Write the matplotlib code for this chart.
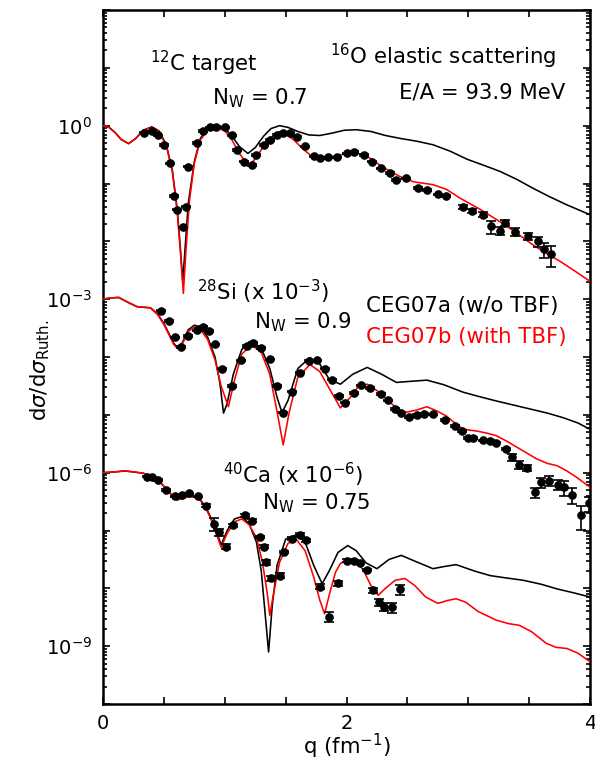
import numpy as np
import matplotlib
matplotlib.use("Agg")
import matplotlib.pyplot as plt
from matplotlib.ticker import FixedLocator, LogLocator, NullFormatter

plt.rcParams['font.family'] = ['DejaVu Sans']
plt.rcParams['mathtext.fontset'] = 'dejavusans'

# ---------------- 12C (x 1) ----------------
c_a_q = [0, 0.05, 0.1, 0.15, 0.21, 0.27, 0.33, 0.40, 0.46, 0.52, 0.57, 0.61, 0.635, 0.655, 0.675, 0.70, 0.75, 0.80,
         0.86, 0.93, 1.00, 1.06, 1.12, 1.19, 1.25, 1.32, 1.38, 1.45, 1.52, 1.60, 1.69, 1.78, 1.88, 1.98, 2.08, 2.20,
         2.32, 2.44, 2.58, 2.71, 2.85, 2.99, 3.12, 3.26, 3.40, 3.53, 3.66, 3.80, 4.0]
c_a_log = [0, -0.03, -0.12, -0.24, -0.31, -0.22, -0.08, -0.02, -0.09, -0.33, -0.78, -1.45, -2.1, -2.7, -2.1, -1.35,
           -0.62, -0.22, -0.04, 0.0, -0.05, -0.18, -0.36, -0.48, -0.38, -0.18, -0.05, 0.0, -0.03, -0.10, -0.16, -0.17,
           -0.13, -0.08, -0.07, -0.10, -0.17, -0.22, -0.27, -0.33, -0.44, -0.58, -0.68, -0.79, -0.93, -1.08, -1.22,
           -1.36, -1.54]
c_b_q = [0, 0.05, 0.1, 0.15, 0.21, 0.27, 0.33, 0.40, 0.46, 0.52, 0.57, 0.61, 0.64, 0.66, 0.68, 0.71, 0.75, 0.80, 0.86,
         0.93, 1.00, 1.06, 1.12, 1.17, 1.21, 1.26, 1.32, 1.38, 1.45, 1.50, 1.57, 1.64, 1.71, 1.78, 1.85, 1.93, 2.03,
         2.12, 2.20, 2.30, 2.44, 2.55, 2.71, 2.82, 2.93, 3.10, 3.26, 3.40, 3.53, 3.65, 3.75, 3.88, 4.00]
c_b_log = [0.0, -0.03, -0.12, -0.24, -0.31, -0.22, -0.08, -0.03, -0.10, -0.35, -0.80, -1.50, -2.30, -2.90, -2.20,
           -1.30, -0.65, -0.25, -0.07, -0.03, -0.09, -0.25, -0.48, -0.62, -0.67, -0.55, -0.35, -0.20, -0.14, -0.15,
           -0.25, -0.40, -0.52, -0.56, -0.55, -0.51, -0.48, -0.49, -0.57, -0.72, -0.88, -0.97, -1.02, -1.10, -1.25,
           -1.45, -1.66, -1.86, -2.06, -2.22, -2.34, -2.52, -2.69]
c_exp_q = [0.34, 0.40, 0.45, 0.50, 0.55, 0.58, 0.61, 0.66, 0.68, 0.70, 0.77, 0.82, 0.88, 0.93, 1.00, 1.06, 1.10, 1.16,
           1.22, 1.26, 1.32, 1.37, 1.43, 1.48, 1.54, 1.59, 1.66, 1.73, 1.78, 1.85, 1.92, 2.00, 2.06, 2.14, 2.21, 2.28,
           2.36, 2.41, 2.49, 2.59, 2.66, 2.75, 2.82, 2.96, 3.03, 3.12, 3.19, 3.26, 3.30, 3.38, 3.49, 3.57, 3.62, 3.68]
c_exp_log = [-0.12, -0.10, -0.17, -0.33, -0.65, -1.22, -1.45, -1.76, -1.40, -0.71, -0.30, -0.09, -0.03, -0.02, -0.03,
             -0.17, -0.42, -0.62, -0.68, -0.51, -0.33, -0.25, -0.16, -0.12, -0.12, -0.19, -0.36, -0.53, -0.56, -0.55,
             -0.55, -0.48, -0.45, -0.51, -0.62, -0.74, -0.82, -0.94, -0.91, -1.08, -1.11, -1.19, -1.22, -1.40, -1.48,
             -1.54, -1.74, -1.82, -1.68, -1.83, -1.91, -2.00, -2.14, -2.22]
c_exp_rel = [0.03] * 43 + [0.08, 0.08, 0.10, 0.25, 0.15, 0.12, 0.15, 0.15, 0.20, 0.30, 0.40]

# ---------------- 28Si (x 1e-3) ----------------
si_a_q = [0, 0.06, 0.13, 0.2, 0.28, 0.39, 0.45, 0.50, 0.55, 0.58, 0.61, 0.65, 0.70, 0.75, 0.80, 0.86, 0.92, 0.96, 0.99,
          1.02, 1.07, 1.14, 1.22, 1.30, 1.37, 1.43, 1.47, 1.52, 1.60, 1.70, 1.78, 1.86, 1.95, 2.05, 2.17, 2.29, 2.41,
          2.53, 2.66, 2.80, 2.96, 3.10, 3.23, 3.37, 3.51, 3.65, 3.78, 3.90, 4.0]
si_a_log = [-3.0, -2.98, -2.97, -3.05, -3.13, -3.15, -3.26, -3.42, -3.63, -3.76, -3.83, -3.76, -3.53, -3.45, -3.48,
            -3.66, -4.0, -4.45, -4.97, -4.8, -4.30, -3.87, -3.72, -3.85, -4.20, -4.70, -4.96, -4.75, -4.20, -4.01,
            -4.12, -4.39, -4.47, -4.30, -4.18, -4.30, -4.44, -4.42, -4.40, -4.48, -4.61, -4.69, -4.76, -4.83, -4.90,
            -4.97, -5.05, -5.14, -5.25]
si_b_q = [0, 0.06, 0.13, 0.2, 0.28, 0.39, 0.45, 0.50, 0.55, 0.58, 0.61, 0.65, 0.70, 0.75, 0.80, 0.86, 0.92, 0.97, 1.03,
          1.08, 1.14, 1.22, 1.30, 1.37, 1.43, 1.48, 1.53, 1.60, 1.70, 1.78, 1.86, 1.95, 2.03, 2.10, 2.17, 2.25, 2.33,
          2.41, 2.48, 2.57, 2.66, 2.74, 2.82, 2.89, 2.96, 3.07, 3.16, 3.23, 3.32, 3.40, 3.48, 3.56, 3.65, 3.73, 3.81,
          3.89, 4.0]
si_b_log = [-3.0, -2.98, -2.97, -3.05, -3.13, -3.15, -3.27, -3.44, -3.65, -3.78, -3.85, -3.78, -3.56, -3.48, -3.52,
            -3.70, -4.05, -4.50, -4.86, -4.40, -3.95, -3.79, -3.92, -4.30, -4.95, -5.52, -4.95, -4.35, -4.13, -4.25,
            -4.55, -4.88, -4.70, -4.50, -4.47, -4.58, -4.73, -4.88, -4.96, -4.92, -4.86, -4.93, -5.02, -5.14, -5.25,
            -5.28, -5.32, -5.36, -5.46, -5.56, -5.66, -5.76, -5.84, -5.88, -5.97, -6.08, -6.25]
si_exp_q = [0.48, 0.54, 0.59, 0.64, 0.70, 0.77, 0.82, 0.87, 0.92, 0.98, 1.06, 1.13, 1.18, 1.23, 1.30, 1.37, 1.43, 1.48,
            1.55, 1.62, 1.69, 1.76, 1.82, 1.88, 1.94, 1.99, 2.06, 2.12, 2.19, 2.28, 2.34, 2.40, 2.45, 2.51, 2.58, 2.64,
            2.71, 2.81, 2.89, 2.95, 3.00, 3.04, 3.12, 3.18, 3.23, 3.31, 3.36, 3.42, 3.48, 3.55, 3.60, 3.66, 3.74, 3.79,
            3.85, 3.93, 3.99]
si_exp_log = [-3.20, -3.38, -3.66, -3.83, -3.64, -3.54, -3.48, -3.55, -3.78, -4.20, -4.50, -4.06, -3.81, -3.75, -3.84,
              -4.04, -4.50, -4.96, -4.60, -4.27, -4.07, -4.06, -4.20, -4.39, -4.67, -4.79, -4.62, -4.49, -4.54, -4.64,
              -4.75, -4.90, -4.96, -5.04, -5.00, -4.98, -4.99, -5.09, -5.19, -5.28, -5.40, -5.40, -5.44, -5.45, -5.48,
              -5.59, -5.73, -5.86, -5.92, -6.34, -6.17, -6.14, -6.21, -6.25, -6.38, -6.74, -6.53]
si_exp_rel = [0.03] * 46 + [0.15, 0.15, 0.12, 0.2, 0.2, 0.2, 0.2, 0.3, 0.3, 0.45, 0.3]

# ---------------- 40Ca (x 1e-6) ----------------
ca_a_q = [0, 0.08, 0.18, 0.26, 0.33, 0.40, 0.44, 0.48, 0.52, 0.57, 0.61, 0.66, 0.71, 0.76, 0.80, 0.84, 0.88, 0.93,
          0.97, 1.02, 1.08, 1.14, 1.20, 1.26, 1.30, 1.33, 1.36, 1.39, 1.43, 1.50, 1.59, 1.66, 1.73, 1.80, 1.86, 1.93,
          2.01, 2.08, 2.16, 2.25, 2.35, 2.45, 2.55, 2.71, 2.81, 2.90, 3.05, 3.18, 3.31, 3.45, 3.60, 3.73, 3.87, 4.0]
ca_a_log = [-6.0, -5.99, -5.97, -5.99, -6.01, -6.06, -6.11, -6.19, -6.28, -6.40, -6.47, -6.44, -6.40, -6.42, -6.47,
            -6.58, -6.75, -7.0, -7.25, -7.0, -6.80, -6.76, -6.88, -7.2, -7.7, -8.4, -9.10, -8.3, -7.6, -7.15, -7.07,
            -7.2, -7.6, -7.92, -7.69, -7.38, -7.26, -7.35, -7.56, -7.66, -7.50, -7.43, -7.52, -7.66, -7.62, -7.59,
            -7.70, -7.78, -7.82, -7.86, -7.93, -8.01, -8.08, -8.15]
ca_b_q = [0, 0.08, 0.18, 0.26, 0.33, 0.40, 0.44, 0.48, 0.52, 0.57, 0.61, 0.66, 0.71, 0.76, 0.80, 0.84, 0.88, 0.93,
          0.97, 1.02, 1.08, 1.14, 1.20, 1.26, 1.31, 1.35, 1.37, 1.40, 1.45, 1.52, 1.59, 1.66, 1.73, 1.78, 1.82, 1.86,
          1.91, 1.95, 2.03, 2.09, 2.14, 2.20, 2.26, 2.32, 2.40, 2.48, 2.56, 2.65, 2.75, 2.83, 2.90, 2.98, 3.08, 3.23,
          3.33, 3.42, 3.52, 3.64, 3.72, 3.81, 3.90, 4.0]
ca_b_log = [-6.0, -5.99, -5.97, -5.99, -6.01, -6.06, -6.11, -6.19, -6.28, -6.40, -6.47, -6.44, -6.41, -6.43, -6.48,
            -6.60, -6.77, -7.05, -7.29, -7.05, -6.85, -6.80, -6.90, -7.12, -7.55, -8.10, -8.47, -8.1, -7.55, -7.22,
            -7.16, -7.35, -7.80, -8.2, -8.44, -8.10, -7.72, -7.57, -7.49, -7.56, -7.69, -7.95, -8.12, -8.0, -7.86,
            -7.83, -7.95, -8.15, -8.26, -8.21, -8.18, -8.24, -8.40, -8.55, -8.61, -8.64, -8.75, -8.95, -9.02, -9.04,
            -9.12, -9.27]
ca_exp_q = [0.36, 0.40, 0.45, 0.52, 0.59, 0.65, 0.71, 0.78, 0.85, 0.91, 0.95, 1.01, 1.07, 1.17, 1.22, 1.29, 1.32, 1.34,
            1.38, 1.45, 1.49, 1.55, 1.62, 1.67, 1.78, 1.86, 1.93, 2.00, 2.06, 2.11, 2.17, 2.22, 2.27, 2.31, 2.37, 2.44]
ca_exp_log = [-6.07, -6.08, -6.13, -6.30, -6.41, -6.38, -6.36, -6.41, -6.57, -6.88, -7.03, -7.28, -6.91, -6.74, -6.83,
              -7.11, -7.28, -7.55, -7.82, -7.78, -7.37, -7.14, -7.07, -7.17, -7.97, -8.49, -7.91, -7.52, -7.53, -7.56,
              -7.68, -8.03, -8.24, -8.32, -8.33, -8.02]
ca_exp_rel = [0.03, 0.03, 0.03, 0.03, 0.03, 0.03, 0.03, 0.03, 0.05, 0.25, 0.15, 0.10, 0.05, 0.05, 0.05, 0.05, 0.05,
              0.10, 0.10, 0.10, 0.05, 0.05, 0.05, 0.05, 0.10, 0.20, 0.10, 0.05, 0.05, 0.05, 0.05, 0.10, 0.15, 0.15,
              0.20, 0.20]

x_ticks = [0, 0.5, 1, 1.5, 2, 2.5, 3, 3.5, 4]
x_ticklabels = ['0', '', '', '', '2', '', '', '', '4']
y_major = [1e-10, 1e-9, 1e-8, 1e-7, 1e-6, 1e-5, 1e-4, 1e-3, 1e-2, 1e-1, 1e0, 1e1, 1e2]
y_ticklabels = ['', r'$10^{-9}$', '', '', r'$10^{-6}$', '', '', r'$10^{-3}$', '', '', r'$10^{0}$', '', '']

W, H = 595, 764
fig = plt.figure(figsize=(W / 100, H / 100), dpi=100)
L, R, T, B = 103, 590, 10, 704
ax = fig.add_axes([L / W, 1 - B / H, (R - L) / W, (B - T) / H])
ax.set_yscale('log')
ax.set_xlim(0, 4)
ax.set_ylim(1e-10, 1e2)

lw = 1.15
for qa, la, qb, lb in [(c_a_q, c_a_log, c_b_q, c_b_log),
                       (si_a_q, si_a_log, si_b_q, si_b_log),
                       (ca_a_q, ca_a_log, ca_b_q, ca_b_log)]:
    ax.plot(qa, 10.0 ** np.array(la), color='black', lw=lw, zorder=2)
    ax.plot(qb, 10.0 ** np.array(lb), color='#ff0000', lw=lw, zorder=3)

for q, lg, rel in [(c_exp_q, c_exp_log, c_exp_rel),
                   (si_exp_q, si_exp_log, si_exp_rel),
                   (ca_exp_q, ca_exp_log, ca_exp_rel)]:
    y = 10.0 ** np.array(lg)
    e = y * np.array(rel)
    ax.errorbar(q, y, yerr=[e, e], fmt='o', ms=5.2, color='black', ecolor='black',
                elinewidth=1.2, capsize=3.5, capthick=1.2, zorder=4)

# ticks
ax.xaxis.set_major_locator(FixedLocator(x_ticks))
ax.set_xticklabels(x_ticklabels)
ax.yaxis.set_major_locator(FixedLocator(y_major))
ax.set_yticklabels(y_ticklabels)
ax.yaxis.set_minor_locator(LogLocator(base=10, subs=np.arange(2, 10), numticks=20))
ax.yaxis.set_minor_formatter(NullFormatter())
ax.tick_params(which='both', direction='in', top=True, right=True, width=1.2, labelsize=14)
ax.tick_params(which='major', length=5)
ax.tick_params(which='minor', length=3)
ax.tick_params(axis='y', pad=8)
ax.tick_params(axis='x', pad=7)
for s in ax.spines.values():
    s.set_linewidth(1.8)

def px(x, y):
    return ((x - L) / (R - L), (B - y) / (B - T))

fs = 15.3
ax.text(*px(150, 71), r'$^{12}$C target', transform=ax.transAxes, fontsize=fs, va='baseline', ha='left')
ax.text(*px(212, 104), r'N$_{\rm W}$ = 0.7', transform=ax.transAxes, fontsize=fs, va='baseline', ha='left')
ax.text(*px(330, 64), r'$^{16}$O elastic scattering', transform=ax.transAxes, fontsize=fs, va='baseline', ha='left')
ax.text(*px(565, 99), 'E/A = 93.9 MeV', transform=ax.transAxes, fontsize=fs, va='baseline', ha='right')
ax.text(*px(197, 300), r'$^{28}$Si (x 10$^{-3}$)', transform=ax.transAxes, fontsize=fs, va='baseline', ha='left')
ax.text(*px(254, 328), r'N$_{\rm W}$ = 0.9', transform=ax.transAxes, fontsize=fs, va='baseline', ha='left')
ax.text(*px(366, 312), 'CEG07a (w/o TBF)', transform=ax.transAxes, fontsize=fs, va='baseline', ha='left',
        color='black')
ax.text(*px(366, 343), 'CEG07b (with TBF)', transform=ax.transAxes, fontsize=fs, va='baseline', ha='left',
        color='#ff0000')
ax.text(*px(223, 483), r'$^{40}$Ca (x 10$^{-6}$)', transform=ax.transAxes, fontsize=fs, va='baseline', ha='left')
ax.text(*px(262, 509), r'N$_{\rm W}$ = 0.75', transform=ax.transAxes, fontsize=fs, va='baseline', ha='left')

fig.text(40 / W, 1 - 370 / H, r'd$\sigma$/d$\sigma_{\rm Ruth.}$', rotation=90, fontsize=fs, ha='center', va='center')
fig.text(347 / W, 1 - 746 / H, r'q (fm$^{-1}$)', fontsize=fs, ha='center', va='center')

fig.savefig('out.png', dpi=100)
